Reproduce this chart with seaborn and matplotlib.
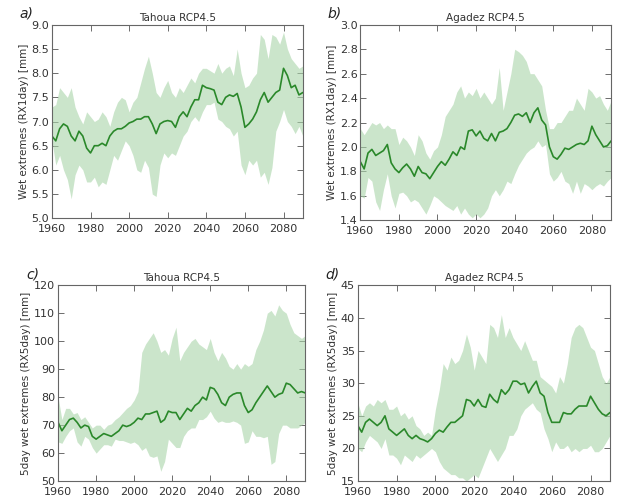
import numpy as np
import pandas as pd
import matplotlib
matplotlib.use('Agg')
import matplotlib.pyplot as plt
import seaborn as sns

# years (2-year steps)
years = list(range(1960, 2091, 2))

# a) Tahoua RX1day
tah1_mean = [6.7, 6.6, 6.85, 6.95, 6.9, 6.7, 6.6, 6.8, 6.7, 6.45, 6.35, 6.5, 6.5, 6.55, 6.5, 6.7, 6.8,
             6.85, 6.85, 6.9, 6.97, 7.0, 7.05, 7.05, 7.1, 7.1, 6.95, 6.75, 6.95, 7.0, 7.02, 7.0, 6.88,
             7.1, 7.2, 7.1, 7.3, 7.45, 7.45, 7.75, 7.7, 7.68, 7.65, 7.4, 7.35, 7.5, 7.55, 7.52, 7.58,
             7.3, 6.88, 6.95, 7.05, 7.2, 7.45, 7.6, 7.4, 7.5, 7.6, 7.65, 8.1, 7.95, 7.7, 7.75, 7.55, 7.6]
tah1_hi = [7.3, 7.35, 7.7, 7.6, 7.5, 7.7, 7.3, 7.1, 6.95, 7.2, 7.1, 7.0, 7.05, 7.2, 7.1, 6.9, 7.2,
           7.4, 7.5, 7.45, 7.2, 7.4, 7.5, 7.8, 8.1, 8.35, 8.0, 7.6, 7.5, 7.7, 7.85, 7.6, 7.5,
           7.7, 7.6, 7.75, 7.9, 7.8, 8.0, 8.1, 8.1, 8.05, 8.0, 8.2, 8.0, 8.1, 8.15, 7.95, 8.5,
           8.0, 7.7, 7.75, 7.9, 8.0, 8.8, 8.7, 8.3, 8.8, 8.75, 8.6, 8.85, 8.5, 8.3, 8.2, 8.1, 8.15]
tah1_lo = [6.6, 6.1, 6.3, 6.0, 5.8, 5.4, 5.9, 6.1, 6.0, 5.75, 5.75, 5.85, 5.65, 5.75, 5.7, 6.0, 6.3,
           6.2, 6.4, 6.6, 6.5, 6.3, 6.0, 5.95, 6.2, 6.05, 5.5, 5.45, 6.1, 6.35, 6.25, 6.35, 6.3,
           6.5, 6.7, 6.8, 7.0, 7.1, 7.0, 7.2, 7.35, 7.35, 7.4, 7.05, 7.0, 6.9, 6.85, 6.7, 6.8,
           6.1, 5.9, 6.2, 6.1, 6.2, 5.85, 5.95, 5.7, 6.05, 6.8, 7.0, 7.25, 7.0, 6.9, 6.75, 6.9, 6.7]

# b) Agadez RX1day
aga1_mean = [1.88, 1.82, 1.95, 1.98, 1.93, 1.95, 1.97, 2.02, 1.87, 1.82, 1.79, 1.83, 1.86, 1.82, 1.76,
             1.84, 1.79, 1.78, 1.74, 1.79, 1.84, 1.88, 1.85, 1.9, 1.96, 1.93, 2.0, 1.98, 2.13, 2.14,
             2.09, 2.13, 2.07, 2.05, 2.11, 2.05, 2.12, 2.13, 2.15, 2.2, 2.26, 2.27, 2.25, 2.28, 2.2,
             2.28, 2.32, 2.22, 2.18, 2.0, 1.92, 1.9, 1.94, 1.99, 1.98, 2.0, 2.02, 2.03, 2.02, 2.05,
             2.17, 2.1, 2.05, 2.0, 2.01, 2.05]
aga1_hi = [2.15, 2.1, 2.15, 2.2, 2.18, 2.2, 2.15, 2.18, 2.15, 2.15, 2.02, 2.08, 2.05, 2.0, 1.93,
           2.1, 2.05, 1.95, 1.9, 1.97, 2.0, 2.1, 2.25, 2.3, 2.35, 2.45, 2.5, 2.4, 2.45, 2.42,
           2.48, 2.4, 2.45, 2.4, 2.35, 2.4, 2.65, 2.3, 2.45, 2.6, 2.8, 2.78, 2.75, 2.7, 2.6,
           2.6, 2.55, 2.5, 2.3, 2.15, 2.15, 2.2, 2.2, 2.25, 2.3, 2.3, 2.4, 2.35, 2.3, 2.48,
           2.45, 2.4, 2.42, 2.35, 2.3, 2.38]
aga1_lo = [1.6, 1.58, 1.75, 1.72, 1.55, 1.48, 1.65, 1.78, 1.6, 1.5, 1.62, 1.63, 1.6, 1.55, 1.57,
           1.55, 1.5, 1.45, 1.52, 1.6, 1.58, 1.55, 1.52, 1.5, 1.48, 1.52, 1.45, 1.5, 1.45, 1.42,
           1.45, 1.42, 1.45, 1.5, 1.6, 1.65, 1.6, 1.65, 1.72, 1.7, 1.78, 1.85, 1.9, 1.95, 1.98,
           2.0, 2.05, 2.0, 2.02, 1.78, 1.72, 1.75, 1.8, 1.72, 1.7, 1.62, 1.72, 1.62, 1.7, 1.68,
           1.65, 1.68, 1.7, 1.68, 1.72, 1.75]

# c) Tahoua RX5day
tah5_mean = [71, 68, 70, 72, 72.5, 71, 69, 70, 69.5, 66, 65, 66, 67, 66.5, 66, 67, 68, 70, 69.5, 70,
             71, 72.5, 72, 74, 74, 74.5, 75, 71, 72, 75, 74.5, 74.5, 72, 74, 76, 75, 77, 78, 80, 79,
             83.5, 83, 81, 78, 77, 80, 81, 81.5, 81.5, 77, 74.5, 75.5, 78, 80, 82, 84, 82, 80, 81,
             81.5, 85, 84.5, 83, 81.5, 82, 81.5]
tah5_hi = [80, 72, 76, 76, 74, 74.5, 72, 73, 71, 69, 70, 70, 68.5, 70, 70.5, 72, 73, 74.5, 76, 77,
           79, 82, 96, 99, 101, 103, 100, 96, 97, 95, 101, 105, 93, 96, 98, 100, 101, 99, 98, 97,
           101, 96, 93, 96, 94, 91, 90, 92, 90, 92, 91, 92, 97, 100, 104, 110, 111, 109, 113, 111,
           110, 106, 103, 102, 101, 102]
tah5_lo = [64, 63.5, 66, 68, 69, 64, 62.5, 66, 65, 62, 60, 61.5, 63, 63, 62.5, 65, 64.5, 64.5, 64,
           63.5, 64, 63, 61, 62, 59, 58.5, 59, 53.5, 57, 65, 63.5, 62, 62, 66, 68, 69, 69, 72, 72,
           73, 75, 72.5, 71, 71.5, 71, 71, 71.5, 71, 70, 63.5, 64, 68, 66, 66, 65.5, 66, 56, 57, 67,
           70, 70, 69, 69, 69, 70, 71]

# d) Agadez RX5day
aga5_mean = [23.5, 22.5, 24, 24.5, 24, 23.5, 24, 25, 23, 22.5, 22, 22.5, 23, 22, 21.5, 22, 21.5,
             21.3, 21, 21.5, 22.3, 22.8, 22.5, 23.3, 24, 24, 24.5, 25, 27.5, 27.3, 26.5, 27.5, 26.5,
             26.3, 28.3, 27.5, 27, 29, 28.3, 29, 30.3, 30.3, 29.8, 30, 28.5, 29.5, 30.3, 28.5, 28,
             25.5, 24, 24, 24, 25.5, 25.3, 25.3, 26, 26.5, 26.5, 26.5, 28, 27, 26, 25.3, 25, 25.5]
aga5_hi = [27, 25, 26.5, 27, 26.5, 27.5, 27, 27.5, 26, 26, 26.5, 25, 25.5, 24.5, 25, 23.5, 23, 22,
           22.5, 22, 26, 29, 33, 32, 34, 33, 33.5, 35, 37.5, 35.5, 32, 35, 34, 33, 39, 38.5, 37,
           40.5, 37, 38.5, 37, 36, 35, 36.5, 35, 33.5, 33.5, 31, 30.5, 30, 29.5, 28.5, 31, 30, 33,
           37, 38.5, 39, 38.5, 37, 35.5, 35, 33, 31, 30, 31]
aga5_lo = [20, 19.5, 21, 22, 21.5, 21, 20, 21.5, 19, 19, 18.5, 17.5, 19, 18.5, 18, 19, 18.5, 19,
           19.5, 20, 19.5, 18, 17, 16.5, 16, 16, 15.5, 15.5, 15, 15.5, 16, 15.5, 17, 18.5, 20, 19,
           18, 19, 20, 22, 22, 23, 25, 26, 26.5, 27, 26, 25.5, 23, 21.5, 19.5, 21, 20, 20, 20.5,
           19.5, 20, 19.5, 20, 20, 20.5, 19.5, 19.5, 20, 21, 22]

sns.set_style('ticks')
plt.rcParams['font.family'] = ['DejaVu Sans']

fig = plt.figure(figsize=(6.18, 4.96), dpi=100)

panels = [
    ('a)', 'Tahoua RCP4.5', 'Wet extremes (RX1day) [mm]', tah1_mean, tah1_lo, tah1_hi,
     (5.0, 9.0), np.arange(5.0, 9.01, 0.5), '%.1f', [0.084, 0.560, 0.406, 0.390]),
    ('b)', 'Agadez RCP4.5', 'Wet extremes (RX1day) [mm]', aga1_mean, aga1_lo, aga1_hi,
     (1.4, 3.0), np.arange(1.4, 3.01, 0.2), '%.1f', [0.583, 0.556, 0.406, 0.394]),
    ('c)', 'Tahoua RCP4.5', '5day wet extremes (RX5day) [mm]', tah5_mean, tah5_lo, tah5_hi,
     (50, 120), np.arange(50, 121, 10), '%d', [0.094, 0.030, 0.400, 0.395]),
    ('d)', 'Agadez RCP4.5', '5day wet extremes (RX5day) [mm]', aga5_mean, aga5_lo, aga5_hi,
     (15, 45), np.arange(15, 46, 5), '%d', [0.579, 0.030, 0.408, 0.395]),
]

for label, title, ylab, mean, lo, hi, ylim, yt, fmt, pos in panels:
    ax = fig.add_axes(pos)
    df = pd.DataFrame({'year': years, 'mean': mean, 'lo': lo, 'hi': hi})
    ax.fill_between(df['year'], df['lo'], df['hi'], color='#a9d5a9', alpha=0.6, linewidth=0)
    sns.lineplot(data=df, x='year', y='mean', ax=ax, color='#2a882a', linewidth=1.2)
    ax.set_xlim(1960, 2090)
    ax.set_ylim(*ylim)
    ax.set_xticks([1960, 1980, 2000, 2020, 2040, 2060, 2080])
    ax.set_yticks(yt)
    ax.set_yticklabels([fmt % v for v in yt])
    ax.tick_params(direction='in', top=True, right=True, length=4, width=0.6,
                   labelsize=8, colors='#555555', labelcolor='#333333', pad=2)
    ax.tick_params(axis='x', pad=4)
    for s in ax.spines.values():
        s.set_color('#666666')
        s.set_linewidth(0.8)
    ax.set_title(title, fontsize=7.5, color='#333333', pad=3)
    ax.set_xlabel('')
    ax.set_ylabel(ylab, fontsize=7.5, color='#333333', labelpad=2)
    ax.text(-0.13, 1.02, label, transform=ax.transAxes, fontsize=10, style='italic',
            color='#222222', ha='left', va='bottom')

fig.savefig('out.png', dpi=100)
